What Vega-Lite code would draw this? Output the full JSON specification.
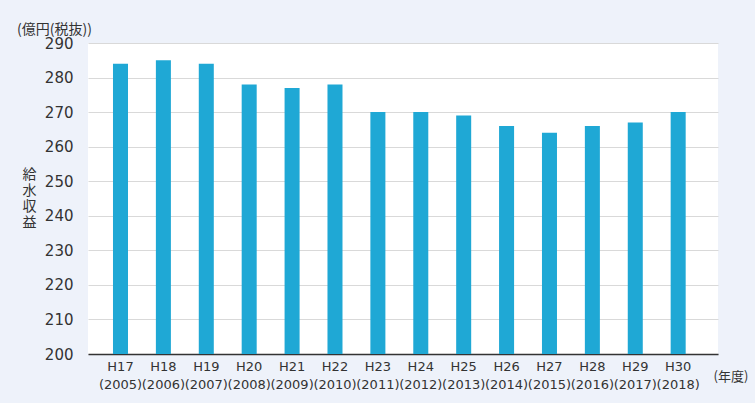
{
  "$schema": "https://vega.github.io/schema/vega-lite/v6.json",
  "autosize": {"type": "none"},
  "width": 630,
  "height": 311,
  "padding": {"left": 88, "top": 43, "right": 37, "bottom": 49},
  "background": "#eef2fa",
  "config": {
    "font": "Noto Sans CJK JP",
    "view": {"fill": "#ffffff", "stroke": null}
  },
  "title": {
    "text": "(億円(税抜))",
    "anchor": "start",
    "frame": "group",
    "dx": -71,
    "dy": 8,
    "offset": 7,
    "fontSize": 14,
    "fontWeight": "normal",
    "color": "#333333"
  },
  "data": {
    "values": [
      {"year": "H17|(2005)", "value": 284},
      {"year": "H18|(2006)", "value": 285},
      {"year": "H19|(2007)", "value": 284},
      {"year": "H20|(2008)", "value": 278},
      {"year": "H21|(2009)", "value": 277},
      {"year": "H22|(2010)", "value": 278},
      {"year": "H23|(2011)", "value": 270},
      {"year": "H24|(2012)", "value": 270},
      {"year": "H25|(2013)", "value": 269},
      {"year": "H26|(2014)", "value": 266},
      {"year": "H27|(2015)", "value": 264},
      {"year": "H28|(2016)", "value": 266},
      {"year": "H29|(2017)", "value": 267},
      {"year": "H30|(2018)", "value": 270}
    ]
  },
  "mark": {"type": "bar", "color": "#1fa8d5", "clip": true},
  "encoding": {
    "x": {
      "field": "year",
      "type": "nominal",
      "sort": null,
      "scale": {"paddingInner": 0.65, "paddingOuter": 0.668, "align": 0.436},
      "axis": {
        "title": "(年度)",
        "titleFontSize": 13,
        "titleFontWeight": "normal",
        "titleColor": "#333333",
        "titleX": 625,
        "titleY": 22,
        "titleAlign": "left",
        "titleBaseline": "middle",
        "labelAngle": 0,
        "labelExpr": "split(datum.label, '|')",
        "labelOverlap": false,
        "labelFont": "DejaVu Sans",
        "labelFontSize": 13,
        "labelColor": "#333333",
        "labelLineHeight": 18,
        "labelPadding": 6,
        "ticks": false,
        "domainColor": "#333333",
        "domainWidth": 1.5
      }
    },
    "y": {
      "field": "value",
      "type": "quantitative",
      "scale": {"domain": [200, 290], "zero": false},
      "axis": {
        "values": [200, 210, 220, 230, 240, 250, 260, 270, 280, 290],
        "title": ["給", "水", "収", "益"],
        "titleAngle": 0,
        "titleFontSize": 14,
        "titleFontWeight": "normal",
        "titleColor": "#333333",
        "titleLineHeight": 16,
        "titleX": -59,
        "titleY": 124,
        "titleAlign": "center",
        "titleBaseline": "top",
        "labelFont": "DejaVu Sans",
        "labelFontSize": 15,
        "labelColor": "#333333",
        "labelPadding": 15,
        "labelBaseline": "middle",
        "ticks": false,
        "domain": false,
        "gridColor": "#d9d9d9"
      }
    }
  }
}
